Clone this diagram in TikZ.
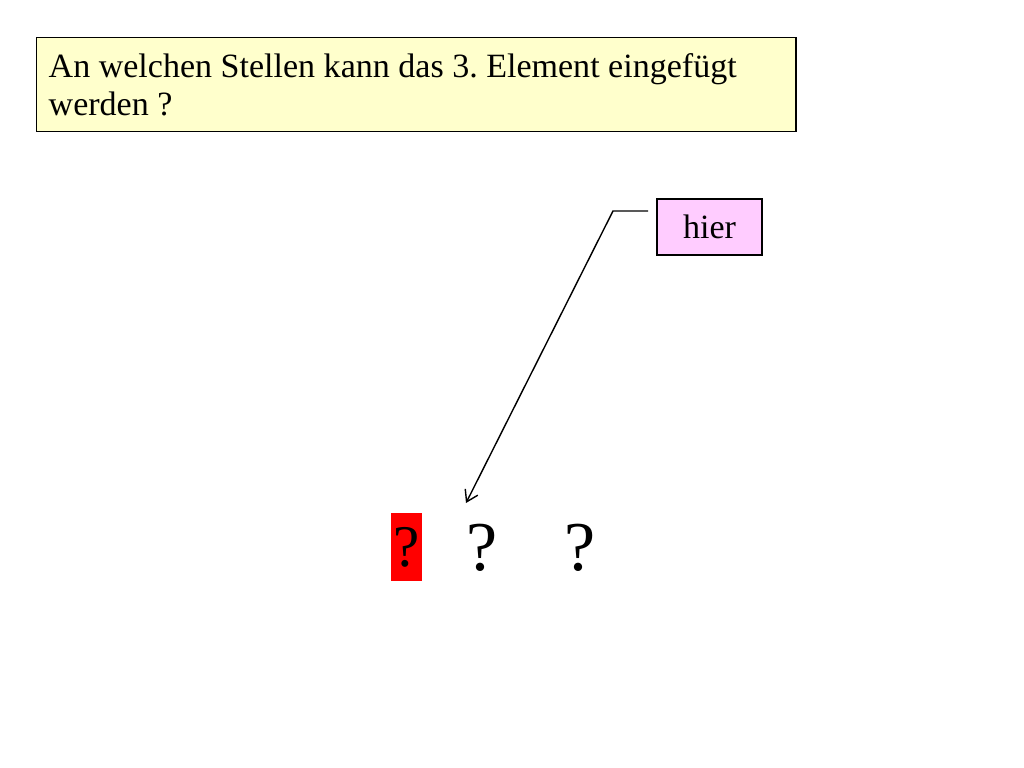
\documentclass[tikz,border=0pt]{standalone}
\usepackage{fontspec}
\setmainfont{Liberation Serif}
\usetikzlibrary{arrows.meta}
\definecolor{hellgelb}{HTML}{FFFFCC}
\definecolor{rosa}{HTML}{FFCCFF}
\frenchspacing
\begin{document}
\begin{tikzpicture}[x=0.025cm, y=-0.025cm,
		kasten/.style={draw=black, line width=1pt, inner sep=0pt},
		frage/.style={font=\fontsize{49.8}{56}\selectfont, inner sep=0pt, anchor=base}]
				\useasboundingbox (0,0) rectangle (1024,768);
				\node[kasten, fill=hellgelb, anchor=north west, minimum width=18.975cm, minimum height=2.35cm,
					text width=18.375cm, inner xsep=0.3cm, align=flush left,
					font=\fontsize{24.2}{27.4}\selectfont] (aufgabe) at (36,37)
					{An welchen Stellen kann das 3. Element eingefügt\\werden ?};
				\node[kasten, fill=rosa, minimum width=2.625cm, minimum height=1.4cm,
					font=\fontsize{24.2}{27.4}\selectfont] (hier) at (709.5,227) {hier};
				\node[fill=red, inner sep=0pt, minimum width=0.775cm, minimum height=1.7cm,
					font=\fontsize{42}{48}\selectfont] (erste) at (406.5,547) {?};
				\node[frage] (zweite) at (482.5,570) {?};
				\node[frage] (dritte) at (580.5,570) {?};
				\coordinate (start) at (648,211);
				\coordinate (ziel) at (466,503);
				\draw[-{Straight Barb[length=7.8pt, width=10pt]}, line width=1pt] (start) -- (613,211) -- (ziel);
			\end{tikzpicture}
\end{document}
